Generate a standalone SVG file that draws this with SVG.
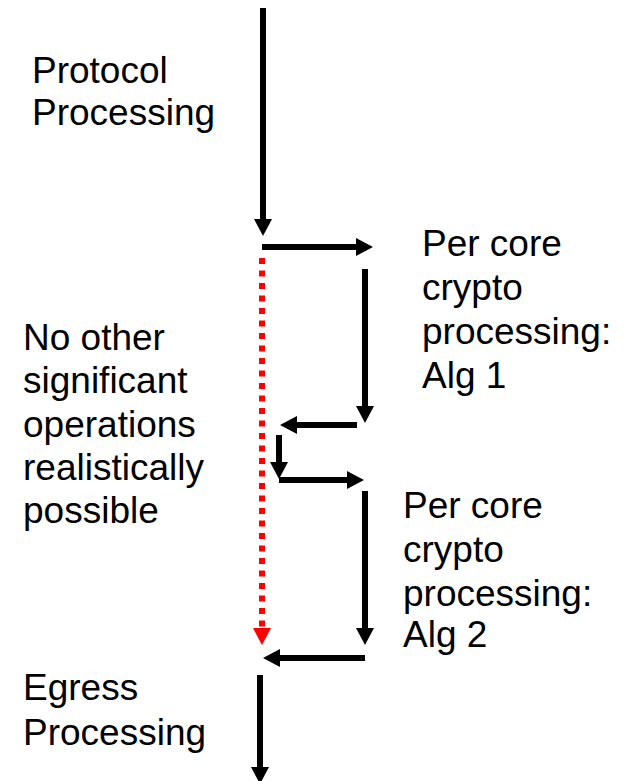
<svg xmlns="http://www.w3.org/2000/svg" width="628" height="781" viewBox="0 0 628 781">
  <style>
    .lbl { font-family: "Liberation Sans", Arial, sans-serif; font-size: 37px; fill: #000; }
    .flow { stroke: #000; stroke-width: 6; fill: none; }
    .idle { stroke: #ff0000; stroke-width: 6; fill: none; stroke-dasharray: 6 6.5; }
  </style>
  <defs>
    <marker id="head" markerUnits="userSpaceOnUse" markerWidth="18" markerHeight="18" refX="1" refY="9" orient="auto" overflow="visible">
      <path d="M0,0 L17,9 L0,18 Z" fill="#000"/>
    </marker>
    <marker id="headRed" markerUnits="userSpaceOnUse" markerWidth="18" markerHeight="18" refX="1" refY="9" orient="auto" overflow="visible">
      <path d="M0,0 L17,9 L0,18 Z" fill="#ff0000"/>
    </marker>
  </defs>

  <!-- stage labels -->
  <g id="protocol">
    <text class="lbl" x="32" y="83">Protocol</text>
    <text class="lbl" x="32" y="125">Processing</text>
  </g>
  <g id="alg1">
    <text class="lbl" x="422" y="256">Per core</text>
    <text class="lbl" x="422" y="300">crypto</text>
    <text class="lbl" x="422" y="344">processing:</text>
    <text class="lbl" x="422" y="388">Alg 1</text>
  </g>
  <g id="idle-note">
    <text class="lbl" x="23" y="350">No other</text>
    <text class="lbl" x="23" y="393">significant</text>
    <text class="lbl" x="23" y="437">operations</text>
    <text class="lbl" x="23" y="480">realistically</text>
    <text class="lbl" x="23" y="523">possible</text>
  </g>
  <g id="alg2">
    <text class="lbl" x="403" y="518">Per core</text>
    <text class="lbl" x="403" y="562">crypto</text>
    <text class="lbl" x="403" y="606">processing:</text>
    <text class="lbl" x="403" y="647">Alg 2</text>
  </g>
  <g id="egress">
    <text class="lbl" x="23" y="700">Egress</text>
    <text class="lbl" x="23" y="745">Processing</text>
  </g>

  <!-- flow connectors -->
  <g id="connectors">
    <path class="flow" d="M263,8 V220" marker-end="url(#head)"/>
    <path class="flow" d="M262,247 H357" marker-end="url(#head)"/>
    <path class="idle" d="M262,258 V629" marker-end="url(#headRed)"/>
    <path class="flow" d="M365,269 V407" marker-end="url(#head)"/>
    <path class="flow" d="M357,425 H296" marker-end="url(#head)"/>
    <path class="flow" d="M279,435 V463" marker-end="url(#head)"/>
    <path class="flow" d="M279,480 H348" marker-end="url(#head)"/>
    <path class="flow" d="M365,491 V629" marker-end="url(#head)"/>
    <path class="flow" d="M365,658 H279" marker-end="url(#head)"/>
    <path class="flow" d="M260,675 V768" marker-end="url(#head)"/>
  </g>
</svg>
